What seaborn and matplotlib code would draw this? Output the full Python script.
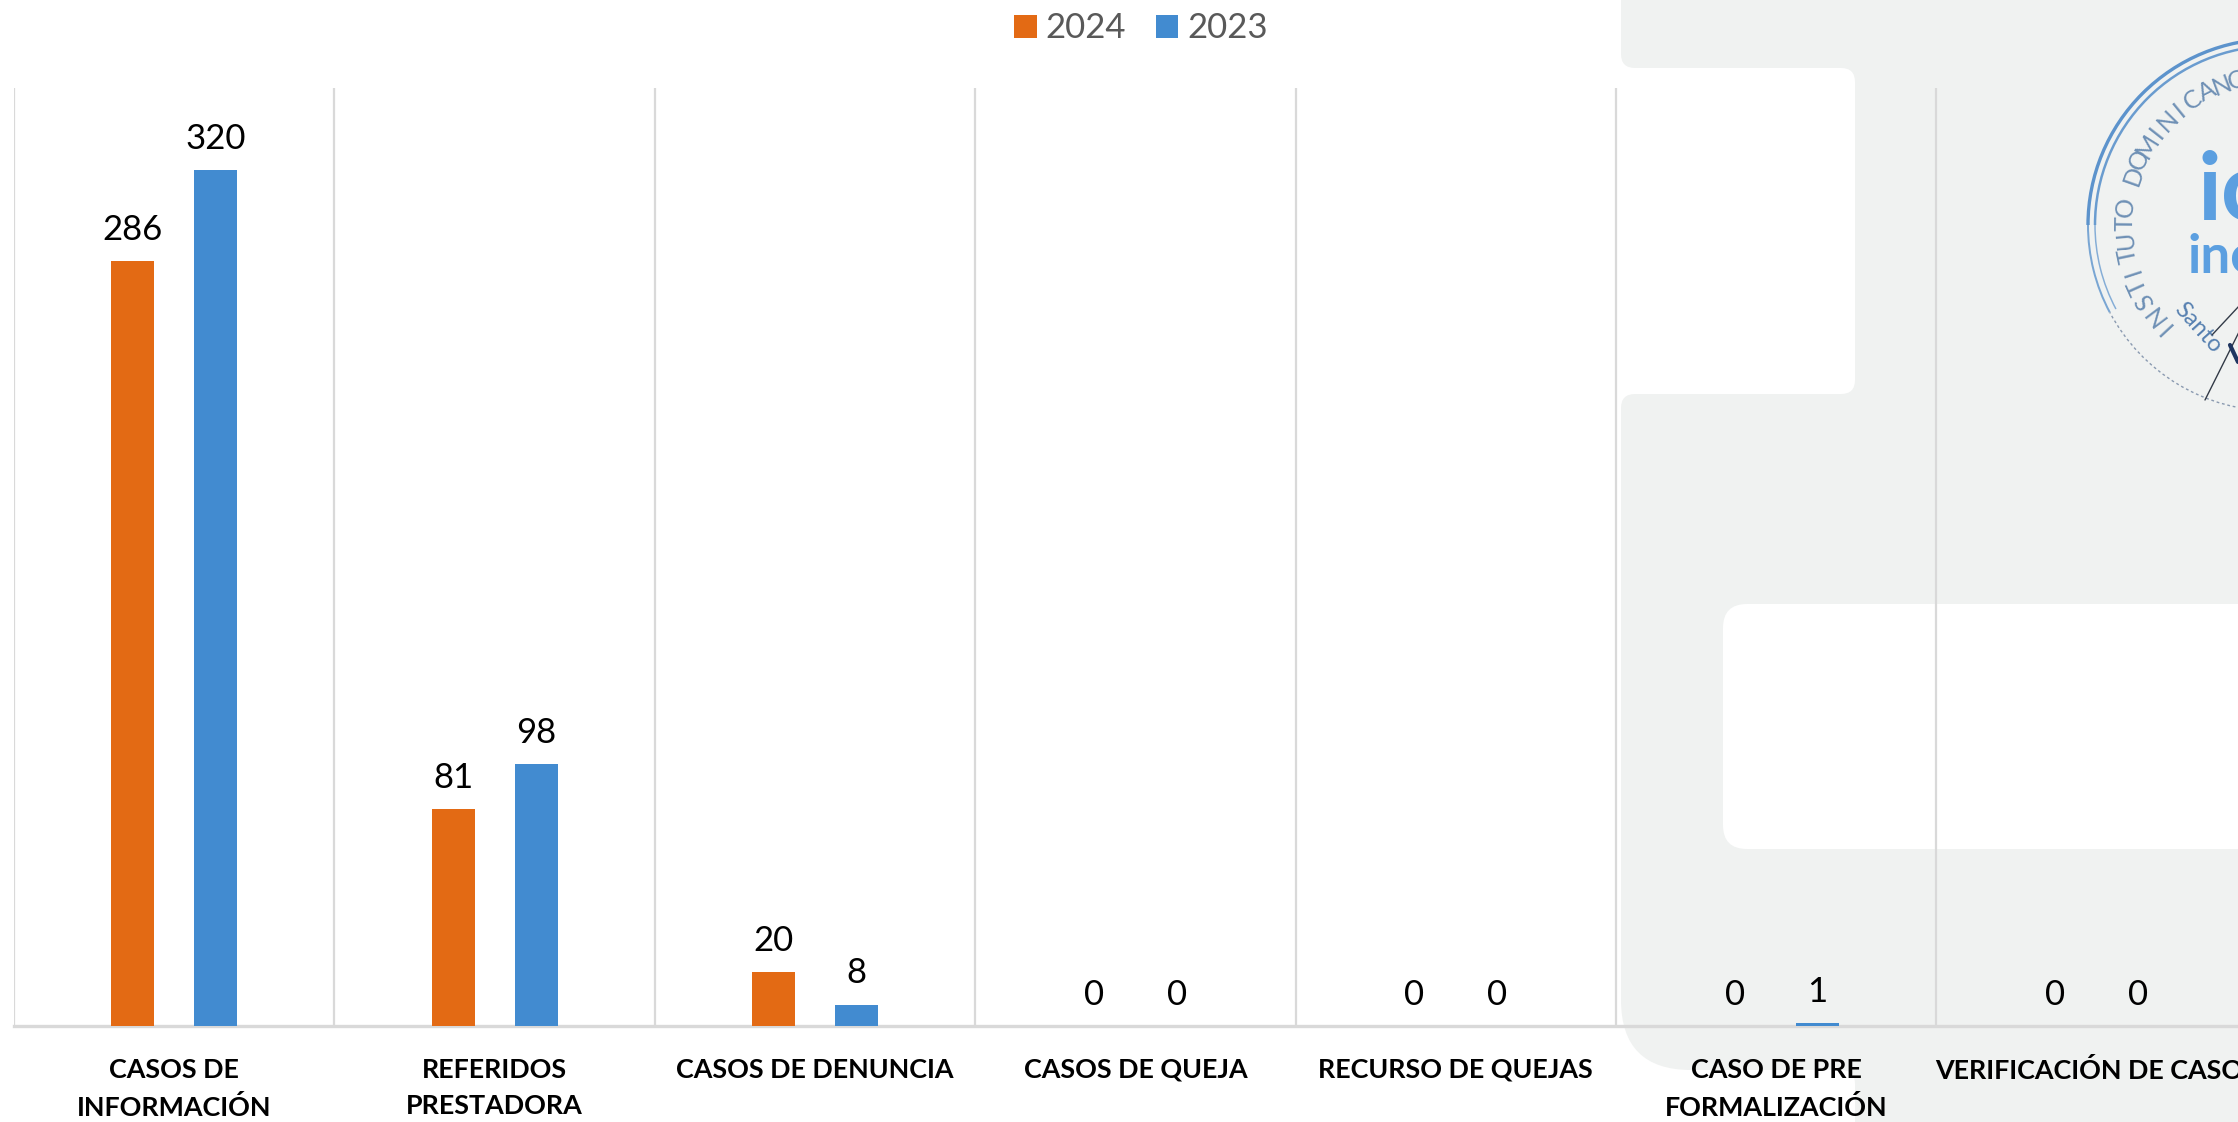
import numpy as np
import pandas as pd
import seaborn as sns
import matplotlib
matplotlib.use("Agg")
import matplotlib.pyplot as plt
from matplotlib.patches import FancyBboxPatch, Rectangle, Arc

categories = ["CASOS DE\nINFORMACIÓN", "REFERIDOS\nPRESTADORA", "CASOS DE DENUNCIA",
              "CASOS DE QUEJA", "RECURSO DE QUEJAS", "CASO DE PRE\nFORMALIZACIÓN",
              "VERIFICACIÓN DE CASOS"]
values_2024 = [286, 81, 20, 0, 0, 0, 0]
values_2023 = [320, 98, 8, 0, 0, 1, 0]
series_names = ["2024", "2023"]
seal_letters = "INSTITUTO DOMINICANO"

ORANGE, BLUE, GRID, PANEL = "#E36A14", "#428BD0", "#D9D9D9", "#F0F2F1"
W, H = 2238, 1122
AX_L, AX_B, AX_T, CAT_W = 14, 1026, 88, 320.4

sns.set_theme(style="white")
plt.rcParams["font.family"] = ["Lato", "DejaVu Sans"]
fig = plt.figure(figsize=(W / 100, H / 100), dpi=100, facecolor="white")

# decorative page background, in pixel coordinates
bg = fig.add_axes([0, 0, 1, 1], zorder=0)
bg.set_xlim(0, W); bg.set_ylim(H, 0); bg.axis("off")
def rbox(x0, y0, x1, y1, r, c, z):
    bg.add_patch(FancyBboxPatch((x0, y0), x1 - x0, y1 - y0,
                                boxstyle=f"round,pad=0,rounding_size={r}",
                                fc=c, ec="none", zorder=z))
bg.add_patch(Rectangle((1750, 0), 600, H, fc=PANEL, ec="none", zorder=1))
rbox(1500, 68, 1855, 394, 14, "white", 2)
rbox(1500, 1070, 1855, 1300, 14, "white", 2)
rbox(1621, -60, 2400, 68, 14, PANEL, 3)
rbox(1621, 394, 2400, 800, 14, PANEL, 3)
rbox(1621, 600, 2400, 1070, 70, PANEL, 3)
rbox(1723, 604, 2400, 849, 24, "white", 4)

# seal (y axis of this layer runs downward, so upper-left is 180-270 degrees)
cx, cy = 2274, 225
STAMP = "#5C93CC"
for r, lw, a in [(186, 2.4, 1.0), (179, 1.8, 0.9)]:
    bg.add_patch(Arc((cx, cy), 2 * r, 2 * r, theta1=180, theta2=270, ec=STAMP, lw=lw, alpha=a, zorder=5))
    bg.add_patch(Arc((cx, cy), 2 * r, 2 * r, theta1=152, theta2=180, ec=STAMP, lw=lw * .6, alpha=a * .8, zorder=5))
bg.add_patch(Arc((cx, cy), 372, 372, theta1=90, theta2=152, ec="#8A9AB0", lw=1, ls=(0, (2, 2)), zorder=5))
for i, ch in enumerate(seal_letters):
    ang = np.deg2rad(223 - i * 6.25)
    bg.text(cx + 149 * np.cos(ang), cy - 149 * np.sin(ang), ch, fontsize=18, color="#6E90B5",
            rotation=np.rad2deg(ang) - 90, ha="center", va="center", rotation_mode="anchor", zorder=5)
bg.text(2197, 219, "ic", fontsize=68, fontweight="bold", color="#5B9FE0", zorder=5)
bg.text(2188, 273, "ine", fontsize=38, fontweight="bold", color="#5B9FE0", zorder=5)
bg.text(2198, 328, "Santo", fontsize=17, color="#5680B0", rotation=-48, ha="center", va="center",
        rotation_mode="anchor", zorder=5)
bg.plot([2205, 2240], [400, 330], color="#333B48", lw=1, zorder=5)
bg.plot([2212, 2240], [335, 305], color="#333B48", lw=1, zorder=5)
bg.plot([2230, 2238], [345, 362], color="#1F3560", lw=3, zorder=5)

# chart
df = pd.DataFrame({
    "categoria": categories * 2,
    "serie": np.repeat(series_names, len(categories)),
    "valor": values_2024 + values_2023,
})
ax = fig.add_axes([AX_L / W, 1 - AX_B / H, (W - AX_L) / W, (AX_B - AX_T) / H], zorder=2)
ax.patch.set_alpha(0)
sns.barplot(data=df, x="categoria", y="valor", hue="serie", hue_order=series_names,
            palette=[ORANGE, BLUE], width=0.518, gap=0.482, saturation=1,
            order=categories, ax=ax, linewidth=0, zorder=3)
ax.set_xlabel(""); ax.set_ylabel(""); ax.set_yticks([])
ax.set_xticks(range(len(categories)))
ax.set_xticklabels(categories, fontsize=19.4, fontweight="bold", color="black", linespacing=1.62)
ax.tick_params(axis="x", which="major", length=0, pad=23)
ax.set_xticks(np.arange(-0.5, len(categories)), minor=True)
ax.tick_params(axis="x", which="minor", length=0)
ax.set_xlim(-0.5, (W - AX_L) / CAT_W - 0.5)
ax.set_ylim(0, 350.6)
ax.grid(False)
ax.grid(which="minor", axis="x", color=GRID, lw=1.6, zorder=1)
ax.set_axisbelow(True)
for s in ["top", "right", "left"]:
    ax.spines[s].set_visible(False)
ax.spines["bottom"].set_color(GRID)
ax.spines["bottom"].set_linewidth(2.4)
for c in ax.containers:
    ax.bar_label(c, fmt="%d", fontsize=25, color="black", padding=11, clip_on=False)
h, l = ax.get_legend_handles_labels()
leg = fig.legend(h, l, loc="center", bbox_to_anchor=(1141 / W, 1 - 28.5 / H), ncol=2, frameon=False,
                 fontsize=25, labelcolor="#595959", handlelength=0.65, handleheight=0.65,
                 handletextpad=0.25, columnspacing=0.86)
ax.get_legend().remove()
fig.savefig("out.png", dpi=100, facecolor="white")
